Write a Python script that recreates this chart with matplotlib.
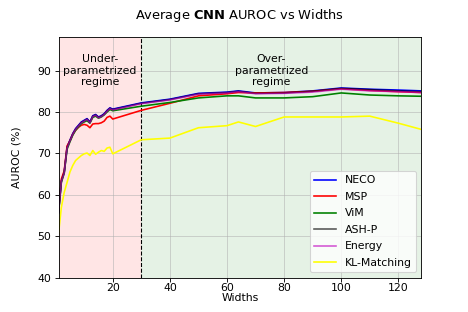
import matplotlib
matplotlib.use('Agg')
import matplotlib.pyplot as plt

################################################################################
# data ----
################################################################################

widths = [1, 2, 3, 4, 5, 6, 7, 8, 9, 10, 11, 12, 13, 14, 15, 16, 17, 18, 19, 20,
          30, 40, 50, 60, 64, 70, 80, 90, 100, 110, 120, 128]

neco = [55.8, 63.4, 65.5, 71.5, 73.2, 74.8, 76.0, 76.8, 77.6, 78.0, 78.4, 77.6, 79.1, 79.4, 78.8, 79.1,
        79.6, 80.4, 81.0, 80.7, 82.2, 83.1, 84.5, 84.8, 85.1, 84.6, 84.7, 85.1, 85.8, 85.5, 85.3, 85.1]
msp = [56.5, 63.8, 65.8, 71.8, 73.0, 74.6, 75.6, 76.3, 76.8, 77.0, 76.8, 76.2, 77.1, 77.2, 77.2, 77.4,
       77.8, 78.7, 79.0, 78.3, 80.4, 82.1, 83.9, 84.4, 84.7, 84.6, 84.7, 85.0, 85.6, 85.2, 84.9, 84.7]
vim = [55.5, 63.0, 65.2, 71.0, 72.8, 74.4, 75.6, 76.4, 77.2, 77.6, 77.9, 77.3, 78.7, 79.0, 78.5, 78.8,
       79.3, 80.0, 80.6, 80.3, 81.4, 82.3, 83.4, 83.9, 83.9, 83.4, 83.4, 83.7, 84.6, 84.1, 83.9, 83.8]
ash_p = [55.7, 63.3, 65.4, 71.4, 73.1, 74.7, 75.9, 76.7, 77.5, 77.9, 78.3, 77.5, 79.0, 79.3, 78.7, 79.0,
         79.5, 80.3, 80.9, 80.6, 82.1, 83.0, 84.4, 84.7, 85.0, 84.5, 84.6, 85.0, 85.7, 85.4, 85.1, 84.9]
energy = [55.6, 63.2, 65.3, 71.3, 73.0, 74.6, 75.8, 76.6, 77.4, 77.8, 78.2, 77.4, 78.9, 79.2, 78.6, 78.9,
          79.4, 80.2, 80.8, 80.5, 82.0, 82.9, 84.3, 84.6, 84.9, 84.4, 84.5, 84.8, 85.5, 85.1, 84.9, 84.7]
kl_matching = [50.5, 57.0, 60.6, 63.0, 65.5, 67.1, 68.3, 68.9, 69.5, 69.9, 70.1, 69.5, 70.7, 69.8, 70.3, 70.7,
               70.5, 71.3, 71.5, 69.9, 73.3, 73.7, 76.2, 76.7, 77.6, 76.5, 78.8, 78.8, 78.8, 79.0, 77.3, 75.8]

series = [
    ('NECO', neco, 'blue', 1.0),
    ('MSP', msp, 'red', 1.0),
    ('ViM', vim, 'green', 1.0),
    ('ASH-P', ash_p, 'black', 0.65),
    ('Energy', energy, 'm', 0.65),
    ('KL-Matching', kl_matching, 'yellow', 1.0),
]

################################################################################
# plot ----
################################################################################

fig, ax = plt.subplots(figsize=(6, 4), dpi=78)

ax.axvspan(0, 30, color='red', alpha=0.1, lw=0)
ax.axvspan(30, 130, color='green', alpha=0.1, lw=0)
ax.axvline(30, color='black', linestyle='--', linewidth=1)

for name, vals, col, a in series:
    ax.plot(widths, vals, color=col, alpha=a, linewidth=1.5, label=name)

ax.text(15.5, 90, 'Under-\nparametrized\nregime', ha='center', va='center', fontsize=10)
ax.text(75.5, 90, 'Over-\nparametrized\nregime', ha='center', va='center', fontsize=10)

ax.set_xlim(1, 128)
ax.set_ylim(40, 98)
ax.grid(True, alpha=0.6)
ax.tick_params(axis='x', pad=1.5)
ax.set_xlabel('Widths', labelpad=0)
ax.set_ylabel('AUROC (%)', labelpad=14)
ax.set_title(r'Average $\bf{CNN}$ AUROC vs Widths', fontsize=12, pad=17)
ax.legend(loc='lower right', labelspacing=0.6)

fig.savefig('out.png', dpi=78)
